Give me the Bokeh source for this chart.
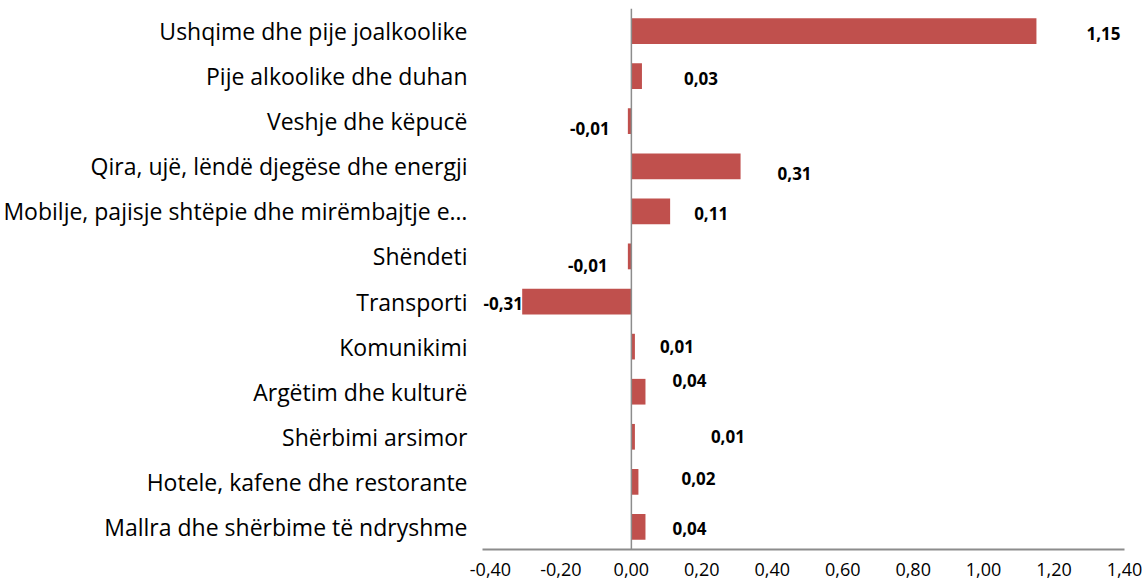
from bokeh.plotting import figure
from bokeh.models import ColumnDataSource, FactorRange, Range1d, Span, FixedTicker, CustomJSTickFormatter, Label
from bokeh.embed import file_html
from bokeh.resources import INLINE

categories = [
    "Ushqime dhe pije joalkoolike",
    "Pije alkoolike dhe duhan",
    "Veshje dhe këpucë",
    "Qira, ujë, lëndë djegëse dhe energji",
    "Mobilje, pajisje shtëpie dhe mirëmbajtje e…",
    "Shëndeti",
    "Transporti",
    "Komunikimi",
    "Argëtim dhe kulturë",
    "Shërbimi arsimor",
    "Hotele, kafene dhe restorante",
    "Mallra dhe shërbime të ndryshme",
]
values = [1.15, 0.03, -0.01, 0.31, 0.11, -0.01, -0.31, 0.01, 0.04, 0.01, 0.02, 0.04]
tick_values = [-0.4, -0.2, 0.0, 0.2, 0.4, 0.6, 0.8, 1.0, 1.2, 1.4]

# label placement (pixel offsets from bar end), styling only
label_dx = [67, 59, -38, 54, 41, -40, -19, 42, 44, 93, 60, 44]
label_dy = [-2, -2, -7, -7, -2, -9, -2, 0, 11, 0, 3, -2]

labels = [f"{v:.2f}".replace(".", ",") for v in values]

src = ColumnDataSource(dict(cat=categories, val=values))

FONT = "Open Sans"
factors = list(reversed(categories))

p = figure(
    width=1144, height=586,
    y_range=FactorRange(*factors, range_padding=0),
    x_range=Range1d(-0.4227, 1.4),
    output_backend="svg", toolbar_location=None,
    min_border_left=481, min_border_top=8, min_border_right=20, min_border_bottom=37,
)

p.hbar(y="cat", right="val", left=0, height=0.57, source=src,
       fill_color="#C0504D", line_color=None)

p.add_layout(Span(location=0, dimension="height", line_color="#8C8C8C", line_width=1.5))

for cat, v, lab, dx, dy in zip(categories, values, labels, label_dx, label_dy):
    y_syn = factors.index(cat) + 0.5  # synthetic coordinate of the factor's centre
    p.add_layout(Label(x=v, y=y_syn, text=lab, x_offset=dx, y_offset=dy,
                       text_align="center", text_baseline="middle",
                       text_font=FONT, text_font_style="bold", text_font_size="17px",
                       text_color="#000000"))

p.xgrid.visible = False
p.ygrid.visible = False
p.outline_line_color = None

xa = p.xaxis[0]
xa.ticker = FixedTicker(ticks=tick_values)
xa.formatter = CustomJSTickFormatter(code="return tick.toFixed(2).replace('.', ',');")
xa.axis_line_color = "#8C8C8C"
xa.axis_line_width = 2
xa.major_tick_line_color = None
xa.minor_tick_line_color = None
xa.major_tick_out = 0
xa.major_tick_in = 0
xa.major_label_standoff = 13
xa.major_label_text_font = FONT
xa.major_label_text_font_size = "18px"
xa.major_label_text_color = "#000000"

ya = p.yaxis[0]
ya.axis_line_color = None
ya.major_tick_line_color = None
ya.minor_tick_line_color = None
ya.major_tick_out = 0
ya.major_tick_in = 0
ya.major_label_standoff = 15
ya.major_label_text_font = FONT
ya.major_label_text_font_size = "23px"
ya.major_label_text_color = "#000000"

open("out.html", "w").write(file_html(p, INLINE))
